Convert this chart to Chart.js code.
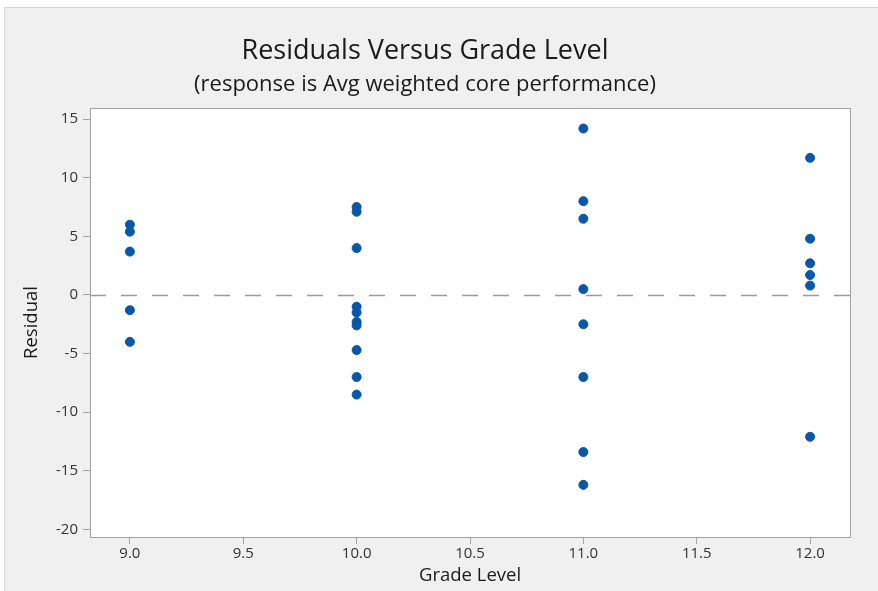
<!DOCTYPE html>
<html>
<head>
<meta charset="utf-8">
<title>Residuals Versus Grade Level</title>
<script src="https://cdn.jsdelivr.net/npm/chart.js@4/dist/chart.umd.min.js"></script>
<style>
  html, body { margin: 0; padding: 0; background: #ffffff; }
  #frame {
    position: absolute; left: 4px; top: 7px; right: 0; bottom: 0;
    background: #f0f0f0;
    border-left: 1px solid #d6d6d6; border-top: 1px solid #d6d6d6;
  }
  #wrap { position: absolute; left: 0; top: 0; width: 878px; height: 591px; }
</style>
</head>
<body>
<div id="frame"></div>
<div id="wrap"><canvas id="chart" width="878" height="591"></canvas></div>
<script>
// Grade levels and the residuals observed at each one
const gradeLevels = [9, 10, 11, 12];
const residualsGrade9  = [6.0, 5.4, 3.7, -1.3, -4.0];
const residualsGrade10 = [7.5, 7.1, 4.0, -1.0, -1.5, -2.3, -2.6, -4.7, -7.0, -8.5];
const residualsGrade11 = [14.2, 8.0, 6.5, 0.5, -2.5, -7.0, -13.4, -16.2];
const residualsGrade12 = [11.7, 4.8, 2.7, 1.7, 0.8, -12.1];

// Axis ticks
const xTickValues = [9.0, 9.5, 10.0, 10.5, 11.0, 11.5, 12.0];
const yTickValues = [-20, -15, -10, -5, 0, 5, 10, 15];
const zeroResidual = 0;

const residualGroups = [residualsGrade9, residualsGrade10, residualsGrade11, residualsGrade12];
const points = [];
residualGroups.forEach((group, i) => {
  group.forEach(r => points.push({ x: gradeLevels[i], y: r }));
});

const FONT = "'Open Sans', 'Noto Sans', sans-serif";
const AXIS_GRAY = '#a3a3a3';

// White plot panel with a full frame, plus the dashed zero reference line
const plotPanel = {
  id: 'plotPanel',
  beforeDatasetsDraw(chart) {
    const { ctx, chartArea: a, scales } = chart;
    ctx.save();
    ctx.fillStyle = '#ffffff';
    ctx.fillRect(a.left, a.top, a.right - a.left, a.bottom - a.top);
    const y0 = Math.round(scales.y.getPixelForValue(zeroResidual)) + 0.5;
    ctx.strokeStyle = '#9b9b9b';
    ctx.lineWidth = 1.3;
    ctx.setLineDash([16, 15]);
    ctx.beginPath();
    ctx.moveTo(a.left, y0);
    ctx.lineTo(a.right, y0);
    ctx.stroke();
    ctx.setLineDash([]);
    ctx.strokeStyle = AXIS_GRAY;
    ctx.lineWidth = 1;
    ctx.strokeRect(Math.round(a.left) + 0.5, Math.round(a.top) + 0.5,
                   Math.round(a.right - a.left), Math.round(a.bottom - a.top));
    ctx.restore();
  }
};

new Chart(document.getElementById('chart'), {
  type: 'scatter',
  data: {
    datasets: [{
      label: 'Residual',
      data: points,
      backgroundColor: '#0a57a8',
      borderColor: '#0a57a8',
      borderWidth: 1,
      pointRadius: 4.5,
      pointHoverRadius: 4.5
    }]
  },
  options: {
    responsive: false,
    animation: false,
    events: [],
    layout: { padding: { top: 0, right: 28, bottom: 0, left: 0 } },
    plugins: {
      legend: { display: false },
      tooltip: { enabled: false },
      title: {
        display: true,
        text: 'Residuals Versus Grade Level',
        color: '#1a1a1a',
        font: { family: FONT, size: 27, weight: 'normal' },
        padding: { top: 35, bottom: 4 }
      },
      subtitle: {
        display: true,
        text: '(response is Avg weighted core performance)',
        color: '#1a1a1a',
        font: { family: FONT, size: 22, weight: 'normal' },
        padding: { top: 0, bottom: 10.2 }
      }
    },
    scales: {
      x: {
        type: 'linear',
        min: 8.824,
        max: 12.176,
        afterBuildTicks(scale) { scale.ticks = xTickValues.map(v => ({ value: v })); },
        afterFit(scale) { scale.height = 54; },
        ticks: {
          color: '#333333',
          font: { family: FONT, size: 15 },
          padding: 1,
          callback: v => Number(v).toFixed(1)
        },
        grid: { drawOnChartArea: false, drawTicks: true, tickLength: 7, color: AXIS_GRAY },
        border: { display: true, color: AXIS_GRAY },
        title: {
          display: true,
          text: 'Grade Level',
          color: '#1a1a1a',
          font: { family: FONT, size: 18.5 },
          padding: { top: 3 }
        }
      },
      y: {
        type: 'linear',
        min: -20.65,
        max: 15.95,
        afterBuildTicks(scale) { scale.ticks = yTickValues.map(v => ({ value: v })); },
        afterFit(scale) { scale.width = 90; },
        ticks: {
          color: '#333333',
          font: { family: FONT, size: 15 },
          padding: 5,
          callback: v => String(v)
        },
        grid: { drawOnChartArea: false, drawTicks: true, tickLength: 7, color: AXIS_GRAY },
        border: { display: true, color: AXIS_GRAY },
        title: {
          display: true,
          text: 'Residual',
          color: '#1a1a1a',
          font: { family: FONT, size: 18.5 },
          padding: { top: 21 }
        }
      }
    }
  },
  plugins: [plotPanel]
});
</script>
</body>
</html>
